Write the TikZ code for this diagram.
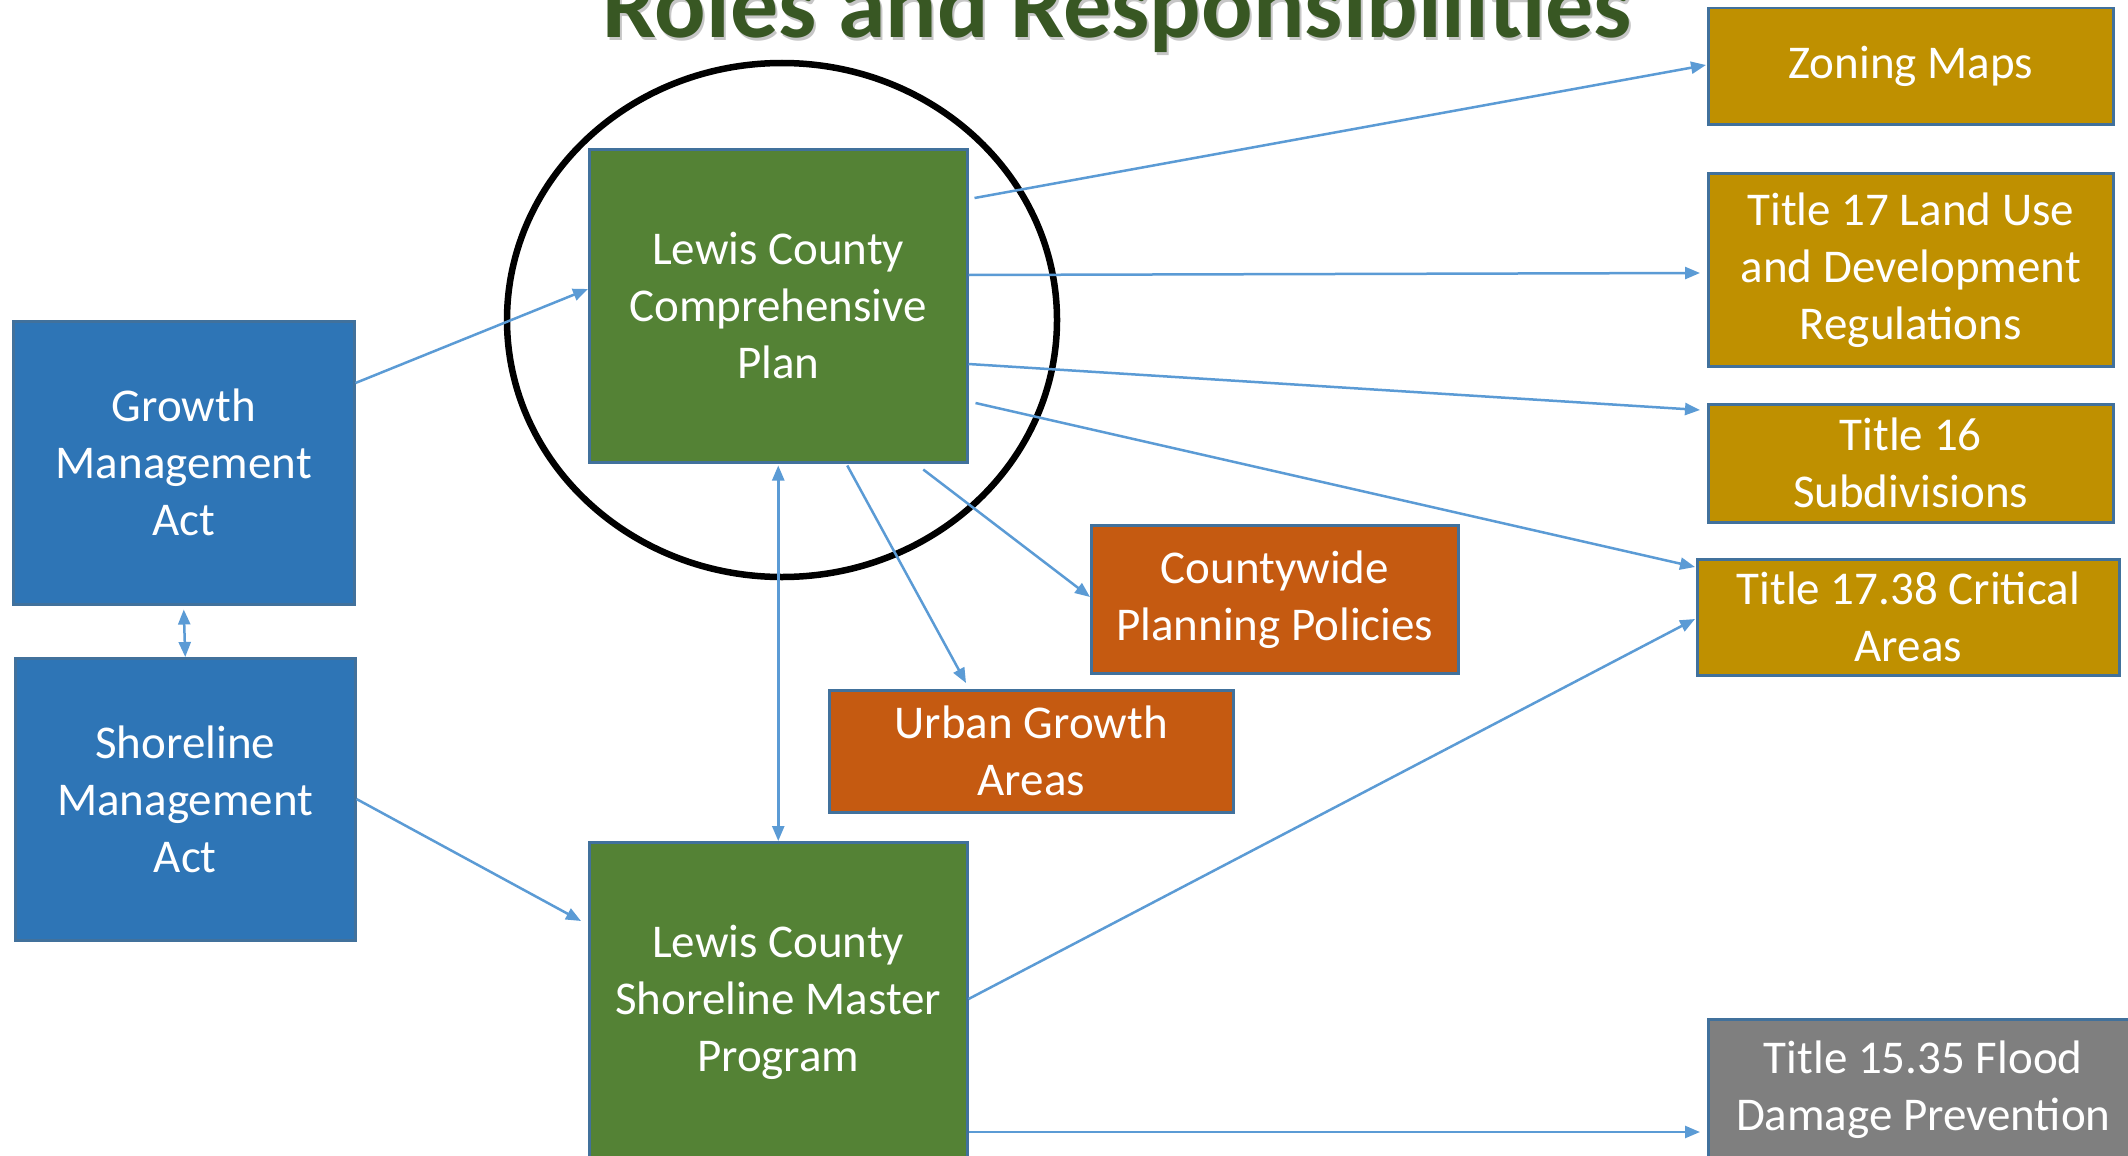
\documentclass[tikz,border=0pt]{standalone}
\usepackage{fontspec}
\setmainfont{Carlito}
\usetikzlibrary{arrows.meta,calc}
\definecolor{cblue}{HTML}{2E75B6}
\definecolor{cgreen}{HTML}{548235}
\definecolor{cgold}{HTML}{BF9000}
\definecolor{corange}{HTML}{C55A11}
\definecolor{cgray}{HTML}{7F7F7F}
\definecolor{cborder}{HTML}{41719C}
\definecolor{carrow}{HTML}{5B9BD5}
\definecolor{ctitle}{HTML}{385723}
\tikzset{
  box/.style={draw=cborder, line width=2.5pt, rectangle, inner sep=0pt, anchor=north west,
    align=center, text=white, font=\fontsize{47}{57}\selectfont},
  conn/.style={draw=carrow, line width=2.5pt, -{Triangle[length=15pt,width=12pt]}},
  biconn/.style={draw=carrow, line width=2.5pt, {Triangle[length=15pt,width=12pt]}-{Triangle[length=15pt,width=12pt]}},
}
\begin{document}
\begin{tikzpicture}[x=1pt,y=-1pt]
\useasboundingbox (0,0) rectangle (2128,1156);
\clip (0,0) rectangle (2128,1156);
\fill[white] (0,0) rectangle (2128,1156);
% title
\node[anchor=base, text=gray!45, font=\fontsize{96}{110}\selectfont\bfseries] (titleshadow) at (1119,41) {Roles and Responsibilities};
\node[anchor=base, text=ctitle, font=\fontsize{96}{110}\selectfont\bfseries] (title) at (1117,38) {Roles and Responsibilities};
% boxes
\node[box, fill=cblue, minimum width=341pt, minimum height=283pt] (gma) at (12,320) {Growth\\Management\\Act};
\node[box, fill=cblue, minimum width=340pt, minimum height=282pt] (sma) at (14,657) {Shoreline\\Management\\Act};
\node[box, fill=cgreen, minimum width=378pt, minimum height=313pt] (cp) at (588,148) {Lewis County\\Comprehensive\\Plan};
\node[box, fill=cgreen, minimum width=378pt, minimum height=320pt] (smp) at (588,841) {Lewis County\\Shoreline Master\\Program};
\node[box, fill=cgold, minimum width=405pt, minimum height=116pt] (zon) at (1707,7) {Zoning Maps};
\node[box, fill=cgold, minimum width=405pt, minimum height=193pt] (t17) at (1707,172) {Title 17 Land Use\\and Development\\Regulations};
\node[box, fill=cgold, minimum width=405pt, minimum height=118pt] (t16) at (1707,403) {Title 16\\Subdivisions};
\node[box, fill=cgold, minimum width=422pt, minimum height=116pt] (crit) at (1696,558) {Title 17.38 Critical\\Areas};
\node[box, fill=corange, minimum width=367pt, minimum height=148pt] (cwpp) at (1090,524) {Countywide\\Planning Policies};
\node[box, fill=corange, minimum width=404pt, minimum height=122pt] (uga) at (828,689) {Urban Growth\\Areas};
\node[box, fill=cgray, minimum width=430pt, minimum height=140pt] (flood) at (1707,1018) {Title 15.35 Flood\\Damage Prevention};
% circle
\draw[black, line width=6.5pt] (782,320) ellipse [x radius=275, y radius=257];
% connectors
\draw[conn] (gma.east |- 0,383) -- (cp.west |- 0,289);
\draw[biconn] ($(gma.south)+(0,4)$) -- (sma.north);
\draw[conn] (sma.east |- 0,799) -- ($(smp.west |- 0,921)+(-7,0)$);
\draw[biconn] ($(cp.south)+(0,2)$) -- (smp.north);
\draw[conn] ($(cp.east |- 0,198)+(6,0)$) -- ($(zon.west |- 0,65)+(-1,0)$);
\draw[conn] (cp.east |- 0,275) -- ($(t17.west |- 0,273)+(-7,0)$);
\draw[conn] (cp.east |- 0,364) -- ($(t16.west |- 0,410)+(-7,0)$);
\draw[conn] ($(cp.east |- 0,403)+(7,0)$) -- ($(crit.west |- 0,567)+(-1,0)$);
\draw[conn] ($(cp.south)+(145,6)$) -- (cwpp.west |- 0,597);
\draw[conn] ($(cp.south)+(69,2)$) -- ($(uga.north -| 966,0)+(0,-6)$);
\draw[conn] (smp.east |- 0,999) -- ($(crit.west |- 0,619)+(-1,0)$);
\draw[conn] (smp.east |- 0,1132) -- ($(flood.west |- 0,1132)+(-7,0)$);
\end{tikzpicture}
\end{document}
